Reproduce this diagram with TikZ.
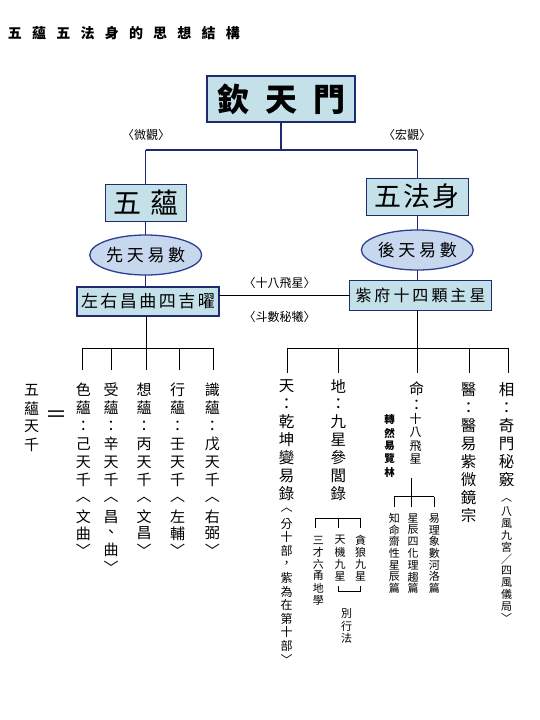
\documentclass[tikz,border=0pt]{standalone}
\usepackage{fontspec}
\setmainfont{Noto Sans CJK TC}
\usetikzlibrary{shapes.geometric}
\definecolor{navy}{HTML}{1F2B70}
\definecolor{boxfill}{HTML}{C4E0E9}
\definecolor{ellfill}{HTML}{C7D8EE}
\definecolor{ellnavy}{HTML}{2E3F93}
\newcommand\fs[1]{\fontsize{#1}{#1}\selectfont}
% vertical column of characters: name, x, y0, pitch, font, list
\newcommand\vcol[6]{%
  \foreach \c [count=\vi from 0] in {#6}{%
    \node[font=#5] (#1-\vi) at (#2,{#3+\vi*#4}) {\c};
  }%
}
\newcommand\hrow[6]{%
  \foreach \c [count=\vi from 0] in {#6}{%
    \node[font=#5] (#1-\vi) at ({#2+\vi*#4},#3) {\c};
  }%
}
\begin{document}
\begin{tikzpicture}[x=1pt,y=-1pt,
  every node/.style={inner sep=0pt,outer sep=0pt},
  boxn/.style={draw=navy,line width=1.3pt,fill=boxfill,rectangle},
  ellip/.style={draw=ellnavy,line width=1.3pt,fill=ellfill,ellipse},
  upline/.style={draw=navy,line width=1.2pt},
  lowline/.style={draw=black,line width=0.9pt},
  lab/.style={font=\fs{12}}]
\fill[white] (0,0) rectangle (540,720);
\useasboundingbox (0,0) rectangle (540,720);

% title
\hrow{ttl}{15}{33}{24.2}{\bfseries\fs{14}}{五,蘊,五,法,身,的,思,想,結,構}

% top structure
\node[boxn,minimum width=148,minimum height=46,font=\bfseries\fs{32}] (top) at (281,99) {欽\hspace{16pt}天\hspace{16pt}門};
\node[lab] (lwei) at (146,135) {〈微觀〉};
\node[lab] (lhong) at (407,135) {〈宏觀〉};
\node[boxn,minimum width=81,minimum height=37,font=\fs{28}] (wuyun) at (145.7,203) {五\hspace{9pt}蘊};
\node[boxn,minimum width=102,minimum height=37,font=\fs{27}] (wufa) at (417.3,196.7) {五\hspace{2pt}法\hspace{2pt}身};
\node[ellip,minimum width=102,minimum height=40,font=\fs{17}] (xian) at (145.7,255) {先\hspace{3.7pt}天\hspace{3.7pt}易\hspace{3.7pt}數};
\node[ellip,minimum width=103,minimum height=40,font=\fs{17}] (hou) at (417.3,250) {後\hspace{3.7pt}天\hspace{3.7pt}易\hspace{3.7pt}數};
\node[boxn,minimum width=142,minimum height=29,font=\fs{17}] (zuoyou) at (148,301.5) {左\hspace{2.5pt}右\hspace{2.5pt}昌\hspace{2.5pt}曲\hspace{2.5pt}四\hspace{2.5pt}吉\hspace{2.5pt}曜};
\node[boxn,minimum width=142,minimum height=30,font=\fs{16}] (zifu) at (420.5,295.5) {紫\hspace{3pt}府\hspace{3pt}十\hspace{3pt}四\hspace{3pt}顆\hspace{3pt}主\hspace{3pt}星};
\node[lab] (lshiba) at (279.7,283) {〈十八飛星〉};
\node[lab] (ldoushu) at (279.7,317) {〈斗數秘犧〉};

\coordinate (jt) at (281,150);
\coordinate (jl) at (145.7,150);
\coordinate (jr) at (417.3,150);
\draw[upline] (top.south) -- (jt);
\draw[upline] (jl) -- (jr);
\draw[upline] (jl) -- (wuyun.north);
\draw[upline] (jr) -- (wufa.north);
\draw[upline] (wuyun.south) -- (xian.north);
\draw[upline] (wufa.south) -- (hou.north);
\draw[upline] (xian.south) -- (xian.south |- zuoyou.north);
\draw[upline] (hou.south) -- (hou.south |- zifu.north);
\draw[lowline] (zifu.west) -- (zifu.west -| zuoyou.east);

% left tree
\coordinate (lb) at (146,348);
\draw[lowline] (lb |- zuoyou.south) -- (lb);
\foreach \n/\xx in {1/82.5,2/111.5,3/146,4/179.3,5/213.3}{
  \coordinate (lt\n) at (\xx,348);
  \coordinate (le\n) at (\xx,370);
  \draw[lowline] (lt\n) -- (le\n);
}
\draw[lowline] (lt1) -- (lt5);

\vcol{wy}{31.7}{390}{18.3}{\fs{15}}{五,蘊,天,千}
\node[font=\fs{22}] (eq) at (56.7,417) {＝};

\vcol{se}{83.3}{390}{18}{\fs{15}}{色,蘊,：,己,天,千}
\vcol{seb}{83.3}{500}{16.7}{\fs{15}}{︿,文,曲,﹀}
\vcol{shou}{111}{390}{18}{\fs{15}}{受,蘊,：,辛,天,千}
\vcol{shoub}{111}{500}{16.7}{\fs{15}}{︿,昌,、,曲,﹀}
\vcol{xiang}{144}{390}{18}{\fs{15}}{想,蘊,：,丙,天,千}
\vcol{xiangb}{144}{500}{16.7}{\fs{15}}{︿,文,昌,﹀}
\vcol{xing}{177.7}{390}{18}{\fs{15}}{行,蘊,：,壬,天,千}
\vcol{xingb}{177.7}{500}{16.7}{\fs{15}}{︿,左,輔,﹀}
\vcol{shi}{212.3}{390}{18}{\fs{15}}{識,蘊,：,戊,天,千}
\vcol{shib}{212.3}{500}{16.7}{\fs{15}}{︿,右,弼,﹀}

% right tree
\coordinate (rb) at (417.5,348);
\draw[lowline] (rb |- zifu.south) -- (rb);
\foreach \n/\xx in {1/287.3,2/338.3,3/417.5,4/469,5/508.3}{
  \coordinate (rt\n) at (\xx,348);
  \coordinate (re\n) at (\xx,373);
  \draw[lowline] (rt\n) -- (re\n);
}
\draw[lowline] (rt1) -- (rt5);

\vcol{tian}{286.7}{386}{18}{\fs{15.5}}{天,：,乾,坤,變,易,錄}
\vcol{tianb}{286.7}{510}{13.6}{\fs{12}}{︿,分,十,部,，,紫,為,在,第,十,部,﹀}
\vcol{di}{338.3}{386}{18}{\fs{15.5}}{地,：,九,星,參,閭,錄}
\vcol{ming}{416.7}{389}{16}{\fs{15}}{命,：}
\vcol{mingb}{415.5}{419}{13.5}{\fs{12}}{十,八,飛,星}
\vcol{zhuan}{389.5}{420}{13}{\bfseries\fs{10.5}}{轉,然,易,覽,林}
\vcol{yi}{468.5}{390}{18}{\fs{15.5}}{醫,：,醫,易,紫,微,鏡,宗}
\vcol{xiangr}{506.7}{390}{18}{\fs{15.5}}{相,：,奇,門,秘,竅}
\vcol{xiangrb}{506.7}{500}{11.8}{\fs{11}}{︿,八,風,九,宮,／,四,風,儀,局,﹀}

% sub-tree under 地
\coordinate (da1) at (315.7,518.3);
\coordinate (da2) at (338.3,518.3);
\coordinate (da3) at (360.5,518.3);
\coordinate (db1) at (315.7,528.3);
\coordinate (db2) at (338.3,528.3);
\coordinate (db3) at (360.5,528.3);
\draw[lowline] (da1) -- (da3);
\draw[lowline] (da1) -- (db1);
\draw[lowline] (da2) -- (db2);
\draw[lowline] (da3) -- (db3);
\vcol{sancai}{318.3}{540}{12}{\fs{11}}{三,才,六,甬,地,學}
\vcol{tianji}{340}{540}{12}{\fs{11}}{天,機,九,星}
\vcol{tanlang}{360.7}{540}{12}{\fs{11}}{貪,狼,九,星}
\coordinate (dc1) at (338.3,586);
\coordinate (dc2) at (338.3,591.7);
\coordinate (dc3) at (360.5,591.7);
\coordinate (dc4) at (360.5,586);
\draw[lowline] (dc1) -- (dc2) -- (dc3) -- (dc4);
\vcol{biexing}{346.7}{613.3}{12.7}{\fs{11}}{別,行,法}

% sub-tree under 命
\coordinate (ma) at (411.7,478);
\coordinate (mb) at (411.7,496.7);
\coordinate (m1) at (394.3,496.7);
\coordinate (m3) at (434.3,496.7);
\coordinate (me1) at (394.3,506.7);
\coordinate (me2) at (411.7,506.7);
\coordinate (me3) at (434.3,506.7);
\draw[lowline] (ma) -- (mb);
\draw[lowline] (m1) -- (m3);
\draw[lowline] (m1) -- (me1);
\draw[lowline] (mb) -- (me2);
\draw[lowline] (m3) -- (me3);
\vcol{zhiming}{394.3}{518.3}{11.7}{\fs{11}}{知,命,齋,性,星,辰,篇}
\vcol{xingchen}{413}{518.3}{11.7}{\fs{11}}{星,辰,四,化,理,趨,篇}
\vcol{yili}{434.3}{518.3}{11.7}{\fs{11}}{易,理,象,數,河,洛,篇}
\end{tikzpicture}
\end{document}
